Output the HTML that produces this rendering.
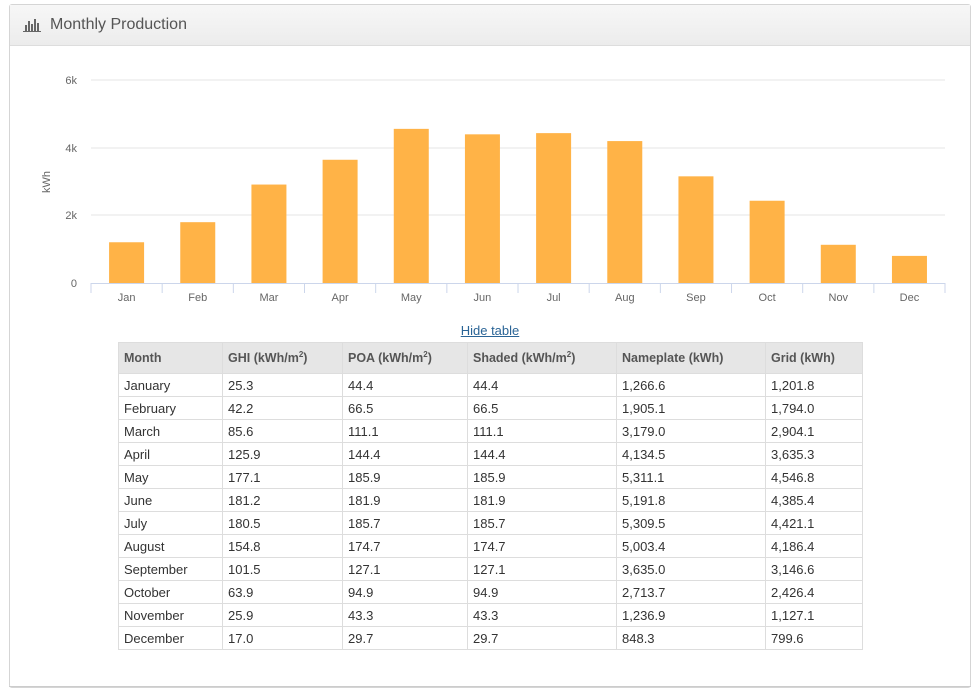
<!DOCTYPE html><html><head><style>
body{margin:0;background:#fff;font-family:"Liberation Sans",sans-serif;}
.panel{position:absolute;left:9px;top:4px;width:960px;height:682px;border:1px solid #d5d5d5;border-radius:3px;background:#fff}
.hdr{height:40px;border-bottom:1px solid #ddd;background:linear-gradient(#f7f7f7,#ececec);font-size:16px;color:#555;line-height:40px;padding-left:40px;position:relative}
table{position:absolute;left:118px;top:342px;border-collapse:collapse;font-size:13px;color:#333}
td,th{border:1px solid #ddd;height:22px;padding:0 5px;text-align:left;white-space:nowrap}
th{background:#e6e6e6;height:30px;font-weight:bold;color:#555;font-size:12.5px}
sup{font-size:8px}
</style></head><body>
<div class="panel"><div class="hdr"><svg style="position:absolute;left:13px;top:13px" width="18" height="14"><rect x="0" y="13" width="18" height="1.5" fill="#666"/><rect x="2" y="7" width="2" height="6" fill="#666"/><rect x="5" y="3" width="2" height="10" fill="#666"/><rect x="8" y="6" width="2" height="7" fill="#666"/><rect x="11" y="1" width="2" height="12" fill="#666"/><rect x="14" y="5" width="2" height="8" fill="#666"/></svg>Monthly Production</div></div>
<div style="position:absolute;left:9px;top:686px;width:962px;height:1px;background:#ccc"></div>
<svg style="position:absolute;left:0;top:0" width="980" height="330" font-family="Liberation Sans" font-size="11" fill="#666">
<g stroke="#e6e6e6"><line x1="91" x2="945" y1="80" y2="80"/><line x1="91" x2="945" y1="148" y2="148"/><line x1="91" x2="945" y1="215" y2="215"/></g>
<line x1="91" x2="945" y1="283.5" y2="283.5" stroke="#ccd6eb"/>
<g text-anchor="end"><text x="77" y="84">6k</text><text x="77" y="152">4k</text><text x="77" y="219">2k</text><text x="77" y="287">0</text></g>
<text transform="translate(50,182) rotate(-90)" text-anchor="middle">kWh</text>
<g fill="#ffb347" id="b"></g>
<g id="t" text-anchor="middle"></g>
</svg>
<script>
var v=[1201.8,1794,2904.1,3635.3,4546.8,4385.4,4421.1,4186.4,3146.6,2426.4,1127.1,799.6],m=["Jan","Feb","Mar","Apr","May","Jun","Jul","Aug","Sep","Oct","Nov","Dec"],b="",t="";
for(var i=0;i<12;i++){var c=91+71.17*(i+.5),h=v[i]*67.8/2000;b+='<rect x="'+(c-17.5)+'" y="'+(283-h)+'" width="35" height="'+h+'"/>';t+='<text x="'+c+'" y="301">'+m[i]+'</text>';var tx=91+71.17*i;t+='<line x1="'+tx+'" x2="'+tx+'" y1="283" y2="293" stroke="#ccd6eb"/>';}
t+='<line x1="945" x2="945" y1="283" y2="293" stroke="#ccd6eb"/>';
document.getElementById("b").innerHTML=b;document.getElementById("t").innerHTML=t;
</script>
<div style="position:absolute;left:0;width:980px;top:323px;text-align:center;font-size:13px;color:#2a6496;text-decoration:underline">Hide table</div>
<table>
<tr><th style="width:93px">Month</th><th style="width:109px">GHI (kWh/m<sup>2</sup>)</th><th style="width:114px">POA (kWh/m<sup>2</sup>)</th><th style="width:138px">Shaded (kWh/m<sup>2</sup>)</th><th style="width:138px">Nameplate (kWh)</th><th style="width:86px">Grid (kWh)</th></tr>
<tr><td>January</td><td>25.3</td><td>44.4</td><td>44.4</td><td>1,266.6</td><td>1,201.8</td></tr>
<tr><td>February</td><td>42.2</td><td>66.5</td><td>66.5</td><td>1,905.1</td><td>1,794.0</td></tr>
<tr><td>March</td><td>85.6</td><td>111.1</td><td>111.1</td><td>3,179.0</td><td>2,904.1</td></tr>
<tr><td>April</td><td>125.9</td><td>144.4</td><td>144.4</td><td>4,134.5</td><td>3,635.3</td></tr>
<tr><td>May</td><td>177.1</td><td>185.9</td><td>185.9</td><td>5,311.1</td><td>4,546.8</td></tr>
<tr><td>June</td><td>181.2</td><td>181.9</td><td>181.9</td><td>5,191.8</td><td>4,385.4</td></tr>
<tr><td>July</td><td>180.5</td><td>185.7</td><td>185.7</td><td>5,309.5</td><td>4,421.1</td></tr>
<tr><td>August</td><td>154.8</td><td>174.7</td><td>174.7</td><td>5,003.4</td><td>4,186.4</td></tr>
<tr><td>September</td><td>101.5</td><td>127.1</td><td>127.1</td><td>3,635.0</td><td>3,146.6</td></tr>
<tr><td>October</td><td>63.9</td><td>94.9</td><td>94.9</td><td>2,713.7</td><td>2,426.4</td></tr>
<tr><td>November</td><td>25.9</td><td>43.3</td><td>43.3</td><td>1,236.9</td><td>1,127.1</td></tr>
<tr><td>December</td><td>17.0</td><td>29.7</td><td>29.7</td><td>848.3</td><td>799.6</td></tr>
</table>
</body></html>
